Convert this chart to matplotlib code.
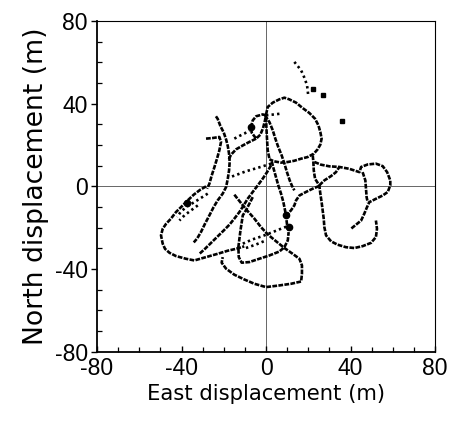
import matplotlib
matplotlib.use("Agg")
import matplotlib.pyplot as plt
from matplotlib.ticker import MultipleLocator

ne_dots_x = [13.4, 15.0, 16.6, 17.7, 18.6, 19.4, 19.7, 20.0]
ne_dots_y = [60.2, 58.2, 56.1, 53.7, 51.3, 48.9, 46.5, 43.7]
iso_x = [22.1, 26.8, 35.8]
iso_y = [46.9, 44.4, 31.6]

loop_ne_x = [0, 0.8, 3.2, 6.3, 8.7, 11.0, 14.2, 17.3, 20.5, 23.2, 24.8, 25.7, 26.3, 25.7, 24.4, 22.6, 19.7, 16.6, 13.4, 10.3, 7.1, 3.9, 1.6]
loop_ne_y = [34.7, 38.4, 40.5, 42.1, 42.9, 42.1, 40.5, 37.9, 35.5, 32.7, 29.5, 26.3, 23.1, 20.2, 17.9, 15.8, 14.2, 13.4, 12.4, 11.8, 11.5, 12.1, 13.1]

se_loop_x = [22.1, 22.4, 22.6, 23.2, 25.2, 25.7, 26.3, 26.8, 27.3, 27.6, 28.4, 30.8, 33.9, 37.8, 41.8, 45.7, 49.7, 52.0, 52.5, 52.0]
se_loop_y = [15.0, 11.8, 7.7, 3.7, 0.5, -3.5, -7.6, -11.6, -15.6, -19.7, -23.7, -26.6, -28.2, -29.4, -29.8, -28.9, -27.3, -24.5, -20.5, -16.5]

hub_link_x = [25.2, 27.6, 30.8, 33.1, 34.7]
hub_link_y = [0.5, 2.9, 5.0, 6.9, 9.4]

e_loop_x = [22.9, 26.0, 30.0, 34.7, 39.4, 44.2, 45.0, 48.1, 52.0, 55.2, 57.3, 58.8, 58.8, 57.6, 55.2, 52.0, 48.9, 47.8, 46.5, 45.0, 42.6, 40.2]
e_loop_y = [11.8, 10.5, 9.7, 9.4, 8.5, 6.9, 9.4, 10.6, 11.0, 9.8, 6.9, 2.9, 0.5, -2.7, -4.4, -6.0, -7.6, -10.0, -13.2, -16.5, -18.5, -20.5]

e_inner_x = [45.7, 47.0, 47.3, 47.6, 48.1]
e_inner_y = [6.9, 2.9, -1.1, -5.2, -7.6]

hub_sw_x = [25.2, 22.1, 18.9, 15.8, 14.2, 13.4, 11.8, 10.3]
hub_sw_y = [0.2, -1.1, -2.7, -4.4, -6.8, -9.2, -11.6, -13.2]

diag_a_x = [-0.5, 1.6, 3.2, 4.4, 5.8, 7.4, 8.7, 9.9, 11.2, 12.3, 13.4]
diag_a_y = [34.4, 31.1, 27.1, 23.1, 19.0, 15.0, 11.0, 6.9, 2.9, 0.2, -1.9]

diag_b_x = [2.7, 3.6, 4.7, 5.8, 7.1, 8.2, 9.0, 9.5, 9.9, 10.6]
diag_b_y = [12.1, 8.5, 4.5, 0.5, -3.5, -7.6, -11.6, -14.8, -18.1, -21.3]

north_x = [0.0, 0.2, 0.5, 0.8, 1.6]
north_y = [33.5, 27.9, 22.3, 17.4, 13.4]

dots_w_x = [2.4, -1.6, -5.5, -9.5, -13.4, -16.9]
dots_w_y = [11.0, 9.7, 8.5, 7.3, 5.8, 4.5]

long_diag_x = [2.4, 0.5, -1.6, -3.9, -6.3, -8.7, -10.6, -12.6, -15.0, -17.3, -20.0, -22.9, -26.0, -28.9, -31.5]
long_diag_y = [10.2, 6.9, 3.7, 0.5, -2.7, -6.0, -9.2, -12.4, -15.6, -18.5, -21.3, -24.2, -27.3, -30.2, -32.6]

s_loop_x = [-15.0, -11.8, -9.0, -5.5, -2.4, 0.8, 4.7, 8.7, 12.6, 15.8, 17.0, 17.0, 16.6, 11.8, 6.3, 0.0, -5.5, -10.3, -15.0, -18.9, -21.0, -20.5]
s_loop_y = [-4.0, -8.1, -11.6, -15.6, -19.7, -23.2, -26.5, -29.8, -32.6, -35.0, -38.2, -42.3, -46.0, -47.1, -47.9, -48.7, -47.1, -45.0, -42.7, -39.8, -36.9, -34.2]

inner_x = [-6.3, -9.5, -11.0, -12.1, -13.1, -12.9, -11.5, -7.9, -3.2, 1.6, 6.3, 8.7, 10.3, 10.7]
inner_y = [-5.2, -11.6, -14.0, -21.3, -29.4, -34.2, -36.9, -36.6, -35.0, -33.4, -31.5, -29.4, -26.1, -22.1]

dash_a_x = [-11.0, -6.3, -1.6, 2.4, 6.3, 10.3]
dash_a_y = [-27.7, -25.6, -24.0, -22.4, -20.8, -19.2]
dash_b_x = [-9.5, -4.7, -0.5]
dash_b_y = [-29.8, -28.1, -26.3]

sw_loop_x = [-28.4, -31.1, -34.2, -37.1, -39.4, -42.6, -45.0, -47.3, -48.9, -49.7, -48.9, -47.8, -45.7, -42.6, -37.9, -33.9, -28.4, -22.9, -18.1, -14.2, -10.3]
sw_loop_y = [0.0, -1.6, -4.0, -6.8, -9.2, -12.4, -15.6, -18.1, -20.5, -23.7, -27.7, -30.2, -32.1, -33.7, -35.0, -35.8, -34.2, -32.6, -31.1, -30.2, -29.0]

w_line_x = [-28.4, -25.2, -22.1, -21.3, -22.1, -23.2, -24.4, -25.7, -26.8, -27.9]
w_line_y = [23.1, 23.4, 23.9, 21.5, 17.4, 13.4, 9.4, 5.3, 1.3, -1.1]

w2_line_x = [-23.7, -22.9, -21.6, -20.0, -18.9, -18.1, -17.5, -17.2, -17.5, -18.1, -18.9, -20.5, -22.9, -24.8, -26.8, -28.9, -30.8, -32.6, -34.2]
w2_line_y = [33.9, 32.7, 29.2, 26.0, 22.7, 19.5, 15.8, 11.8, 7.7, 3.7, -0.3, -3.5, -6.8, -10.0, -14.0, -18.1, -22.1, -25.2, -27.1]

sw_in1_x = [-27.6, -30.8, -33.9, -37.1, -40.2, -42.1]
sw_in1_y = [-3.5, -5.6, -7.6, -9.5, -12.1, -14.8]
sw_in2_x = [-32.3, -35.5, -38.6, -41.0]
sw_in2_y = [-9.2, -11.6, -14.0, -16.5]

small_loop_x = [0.0, -1.6, -4.7, -6.3, -7.1, -6.8, -4.7, -2.7, -1.4, -0.5, 0.0]
small_loop_y = [34.4, 34.8, 33.9, 31.9, 28.7, 26.0, 23.1, 25.0, 28.2, 31.9, 34.4]

loop_tail_x = [-4.7, -7.9, -11.0, -14.2, -16.6, -17.8]
loop_tail_y = [23.1, 21.5, 19.8, 17.9, 15.3, 12.6]

dots_nw_x = [-15.0, -12.6, -10.3, -7.9]
dots_nw_y = [23.1, 24.4, 25.5, 27.1]

top_dots_x = [0.0, 3.9, 7.1]
top_dots_y = [34.4, 34.8, 35.2]

blob_x = [9.3, 10.7, -37.5, -7.2]
blob_y = [-14.0, -19.7, -8.1, 28.7]

segments = [
    (loop_ne_x, loop_ne_y), (se_loop_x, se_loop_y), (hub_link_x, hub_link_y),
    (e_loop_x, e_loop_y), (e_inner_x, e_inner_y), (hub_sw_x, hub_sw_y),
    (diag_a_x, diag_a_y), (diag_b_x, diag_b_y), (north_x, north_y),
    (long_diag_x, long_diag_y), (s_loop_x, s_loop_y), (inner_x, inner_y),
    (sw_loop_x, sw_loop_y), (w_line_x, w_line_y), (w2_line_x, w2_line_y),
    (small_loop_x, small_loop_y), (loop_tail_x, loop_tail_y),
]
dotted_segments = [
    (ne_dots_x, ne_dots_y), (dots_w_x, dots_w_y), (dash_a_x, dash_a_y),
    (dash_b_x, dash_b_y), (sw_in1_x, sw_in1_y), (sw_in2_x, sw_in2_y),
    (dots_nw_x, dots_nw_y), (top_dots_x, top_dots_y),
]

ticks = [-80, -40, 0, 40, 80]

plt.rcParams["axes.unicode_minus"] = False

fig = plt.figure(figsize=(4.49, 4.28), dpi=100)
ax = fig.add_axes([0.216, 0.178, 0.753, 0.773])

ax.axhline(0, color="#666666", lw=0.7, zorder=1)
ax.axvline(0, color="#666666", lw=0.7, zorder=1)

for sx, sy in segments:
    ax.plot(sx, sy, color="black", lw=1.9, linestyle=(0, (1.8, 0.5)),
            dash_capstyle="butt", solid_joinstyle="round", zorder=3)
for sx, sy in dotted_segments:
    ax.plot(sx, sy, color="black", lw=1.9, linestyle=(0, (0.9, 1.2)),
            dash_capstyle="butt", zorder=3)
ax.plot(iso_x, iso_y, "s", color="black", ms=2.2, zorder=3)
ax.plot(blob_x, blob_y, "o", color="black", ms=4.5, zorder=3)

ax.set_xlim(-80, 80)
ax.set_ylim(-80, 80)
ax.set_xticks(ticks)
ax.set_yticks(ticks)
ax.xaxis.set_minor_locator(MultipleLocator(10))
ax.yaxis.set_minor_locator(MultipleLocator(10))
ax.tick_params(which="minor", direction="in", top=False, right=False,
               length=3.5, width=0.9, color="black")
ax.tick_params(axis="y", which="major", direction="out", length=4, width=1.0, pad=2.5)
ax.tick_params(axis="x", which="major", direction="in", length=4, width=1.0, pad=3.5)
ax.tick_params(which="major", labelsize=16.5)

for lab in ax.get_xticklabels() + ax.get_yticklabels():
    lab.set_family("Liberation Sans")

for side in ["left", "bottom"]:
    ax.spines[side].set_linewidth(1.3)
for side in ["top", "right"]:
    ax.spines[side].set_linewidth(0.8)

ax.set_xlabel("East displacement (m)", fontsize=15.2, family="DejaVu Sans", labelpad=3)
ax.set_ylabel("North displacement (m)", fontsize=19.2, family="DejaVu Sans", labelpad=4)

fig.savefig("out.png", dpi=100)
